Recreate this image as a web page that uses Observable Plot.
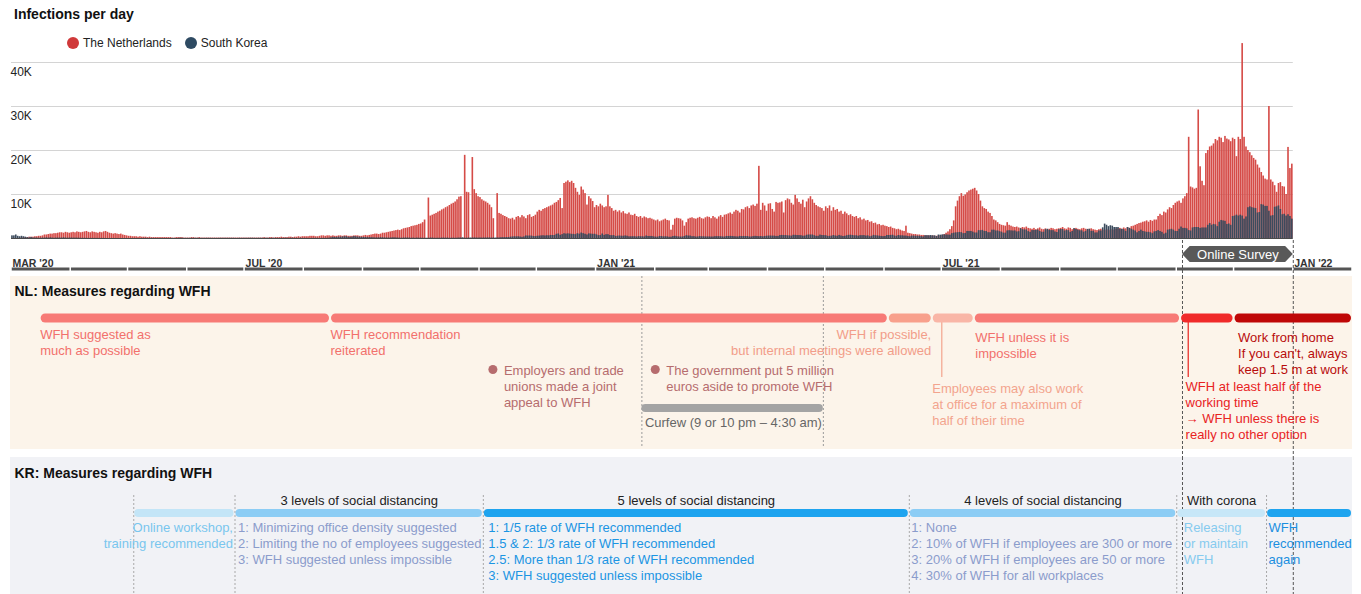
<!DOCTYPE html>
<html><head><meta charset="utf-8">
<script src="https://cdn.jsdelivr.net/npm/d3@7"></script>
<script src="https://cdn.jsdelivr.net/npm/@observablehq/plot@0.6"></script>
<style>
body{margin:0;background:#fff;font-family:Helvetica, Arial, "Liberation Sans", sans-serif;}
#root{position:relative;width:1361px;height:594px;overflow:hidden;background:#fff;}
.abs{position:absolute;left:0;width:1361px;}
#title{position:absolute;left:14px;top:6px;font-weight:bold;font-size:14px;color:#111;}
#legend{position:absolute;left:67px;top:36px;font-size:12px;color:#222;display:flex;align-items:center;}
.sw{display:inline-block;width:12px;height:12px;border-radius:50%;margin-right:4px;}
</style></head>
<body><div id="root">
<div id="chart" class="abs" style="top:40px"></div>
<div id="axis" class="abs" style="top:240px"></div>
<div id="nl" class="abs" style="top:276px"></div>
<div id="kr" class="abs" style="top:457px"></div>
<div id="title">Infections per day</div>
<div id="legend"><span class="sw" style="background:#d0393a"></span>The Netherlands<span class="sw" style="background:#2e4a62;margin-left:13px"></span>South Korea</div>
</div>
<script>
// ---------- DATA: daily new infections, in hundreds ----------
const NL_2020_03 = [0,0,0,0,1,1,2,2,2,3,3,3,4,4,5,5,6,8,8,9,10,10,11,11,12,13,13,12,14,13,12];
const NL_2020_04 = [13,14,13,15,14,13,14,15,16,14,13,15,14,13,12,14,13,15,16,14,12,11,10,11,10,9,10,8,7,6];
const NL_2020_05 = [5,5,4,4,4,3,4,3,3,3,2,3,2,2,2,2,2,2,2,2,2,2,2,1,1,2,2,2,2,1,1];
const NL_2020_06 = [1,1,2,2,1,1,2,1,1,1,1,1,1,1,1,1,1,1,1,1,1,1,1,1,1,1,1,1,1,1];
const NL_2020_07 = [1,1,1,1,1,1,1,1,1,1,2,1,1,2,2,1,2,2,2,3,2,2,2,3,3,2,3,3,4,3,4];
const NL_2020_08 = [4,4,4,5,5,5,4,4,5,6,6,5,6,6,5,6,5,5,6,6,5,6,6,5,5,5,6,6,6,5,5];
const NL_2020_09 = [6,7,6,7,8,9,10,10,9,10,12,12,13,14,15,16,17,18,19,18,20,22,23,24,25,27,28,29,30,32];
const NL_2020_10 = [33,36,42,0,92,51,53,55,57,60,62,65,67,70,72,75,78,80,83,88,94,95,0,189,105,104,0,184,111,102,95];
const NL_2020_11 = [93,88,85,83,80,76,70,45,0,102,57,55,52,50,48,45,44,46,42,48,50,47,52,49,45,52,54,48,50,53];
const NL_2020_12 = [60,64,62,66,68,70,72,74,76,80,82,86,91,68,125,128,131,127,130,125,114,105,98,117,110,102,76,95,90,84,70];
const NL_2021_01 = [75,72,78,74,70,72,98,72,68,62,64,60,63,58,61,56,55,58,53,52,55,50,48,50,46,49,47,45,46,44,42];
const NL_2021_02 = [40,42,38,40,42,44,41,40,19,30,44,46,45,44,40,28,36,44,46,47,45,44,46,48,45,44,47,49];
const NL_2021_03 = [48,45,50,47,44,49,52,48,53,54,56,58,55,60,64,62,58,66,65,70,72,68,74,76,73,78,164,64,80,74,62];
const NL_2021_04 = [78,79,66,60,82,80,81,83,58,86,90,88,80,76,98,90,82,78,87,70,83,90,95,88,80,75,72,70,68,62];
const NL_2021_05 = [72,68,74,62,70,64,66,60,62,55,60,56,52,54,50,48,50,45,47,42,44,40,41,37,38,34,35,31,32,29,30];
const NL_2021_06 = [28,27,25,26,23,22,20,21,19,17,16,28,12,11,10,9,9,8,8,7,7,6,6,6,5,6,5,5,6,6];
const NL_2021_07 = [7,9,12,15,20,27,40,72,85,95,102,96,99,104,108,110,112,114,108,100,85,72,68,66,60,57,50,42,40,36,32];
const NL_2021_08 = [30,29,28,36,30,28,26,25,26,24,23,25,24,26,23,22,21,23,20,22,24,21,20,22,19,21,23,22,20,21,22];
const NL_2021_09 = [23,25,22,21,24,23,20,22,23,21,20,22,23,21,19,21,22,20,19,18,20,21,19,18,20,19,18,20,19,21];
const NL_2021_10 = [22,23,21,24,22,25,23,27,28,30,32,34,35,37,38,40,37,41,39,42,42,50,55,52,60,58,65,70,68,75,80];
const NL_2021_11 = [83,85,80,90,95,102,230,117,115,112,114,292,163,130,120,193,200,208,210,215,225,222,230,228,218,232,226,224,220,228];
const NL_2021_12 = [225,186,230,225,443,230,208,200,195,188,182,178,167,160,150,142,135,133,300,133,128,120,105,125,127,118,117,100,207,159,169];

const KR_2020_03 = [6,6,8,5,4,5,4,3,2,1.5,2.4,1.1,1.1,1,0.8,0.7,0.9,0.9,1.5,0.9,1.5,1,0.6,1,1,1,0.9,1.5,1,0.8,1];
const KR_2020_04 = [1,0.9,0.9,0.9,0.8,0.5,0.5,0.5,0.4,0.3,0.3,0.3,0.3,0.3,0.3,0.2,0.2,0.2,0.1,0.1,0.1,0.1,0.1,0.1,0.1,0.1,0.1,0.1,0.1,0.1];
const KR_2020_05 = [0.1,0.1,0.1,0.1,0.1,0.1,0.1,0.2,0.3,0.4,0.3,0.3,0.3,0.3,0.2,0.2,0.2,0.2,0.2,0.2,0.2,0.2,0.2,0.2,0.2,0.2,0.4,0.8,0.6,0.4,0.3];
const KR_2020_06 = [0.4,0.4,0.5,0.4,0.5,0.5,0.5,0.4,0.4,0.4,0.5,0.5,0.4,0.3,0.4,0.3,0.4,0.5,0.5,0.5,0.5,0.5,0.5,0.5,0.5,0.3,0.3,0.6,0.4,0.5];
const KR_2020_07 = [0.5,0.5,0.6,0.6,0.6,0.5,0.4,0.6,0.5,0.5,0.4,0.6,0.6,0.4,0.4,0.6,0.4,0.4,0.3,0.3,0.4,0.6,0.6,0.4,0.6,0.6,0.3,0.3,0.4,0.5,0.3];
const KR_2020_08 = [0.3,0.3,0.3,0.2,0.3,0.4,0.4,0.4,0.3,0.3,0.5,0.5,0.6,1,1.7,2.8,2.2,2.5,3,3,3.3,3.9,4,2.7,2.7,3.2,4.4,3.7,3.2,3,2.5];
const KR_2020_09 = [2.4,2.3,2,2,1.9,1.7,1.4,1.4,1.5,1.8,1.6,1.3,1.2,1.1,1.1,1.5,1.6,1.3,1.1,0.8,0.7,1.1,1.2,1.2,1.1,0.6,1,0.5,1.1,0.8];
const KR_2020_10 = [0.8,0.6,0.7,0.6,0.7,1,1,0.6,0.5,0.7,0.6,1,1,0.8,1.1,0.5,0.7,0.8,0.6,0.9,1.2,1.2,1.6,0.8,0.7,1.2,1.1,1.2,1.3,1.1,1];
const KR_2020_11 = [1.2,1,1.2,1.2,1.4,1.4,0.9,1.4,1,1.4,1.4,1.9,2,2,2.2,2.3,3.1,3.4,3.9,3.6,3.9,3.3,2.7,3.5,5.8,5.5,5.7,5.4,4.5,4.3];
const KR_2020_12 = [5.1,5.4,6,6.3,5.8,6.3,6.1,6.9,6.8,6.9,9.5,10.3,7.2,8.8,10.8,10.1,10.6,10.1,9.5,9.3,8.7,10.9,9.8,12.4,11,9.7,8.1,10.5,10,9.5,9.6];
const KR_2021_01 = [8.2,6.5,6.6,10.2,7.2,8.7,8.7,6.7,6.4,6.6,4.5,5.3,5.6,5.2,5.1,5.8,5.2,3.9,4,4,4,3.4,4.3,4,3.9,3.5,5.6,4.6,4.7,4.6,3.6];
const KR_2021_02 = [3.1,3.2,4.6,4.5,3.7,3.9,3.7,2.9,3,4.4,5,4,3.6,3.3,3.4,4.6,6.2,5.6,5.6,4.2,4.2,3.3,3.6,4.4,4,3.9,3.6,3.6];
const KR_2021_03 = [3.6,3.4,3.4,4.2,4.2,4.2,4,3.5,3.3,4.6,4.6,4.9,4.6,4.1,3.8,3.6,4.7,4.5,4.6,4.5,4.5,3.5,3.5,4.3,4.9,4.5,4.2,4.5,3.8,4.5,5.1];
const KR_2021_04 = [5.5,5.6,5.4,5.4,4.7,4.8,6.7,7,6.7,6.7,6.1,5.9,5.4,7.3,7.2,6.7,6.7,6.4,5.3,5.5,7.3,7.9,7.9,7.9,6.4,5,5.1,7.7,6.8,6.6];
const KR_2021_05 = [6.3,4.9,4.9,5.4,6.8,5.7,5.2,7,5.7,4.6,5.1,6.3,7.2,7.4,6.8,6.1,6.2,5.3,6.5,6.5,6.6,5.6,6,4.1,5.1,7.1,6.3,5.9,5.3,4.8,4.3];
const KR_2021_06 = [4.6,6.8,6.8,7,7.4,5.6,4.9,6.8,6.1,6.2,5.6,5.5,4.5,4,5.4,5.5,5.2,5.1,5,4.2,3.6,6.5,6.5,6.3,6.7,6.1,6.1,4.5,7.9,7.6];
const KR_2021_07 = [8.3,8.3,8.2,7.9,7.5,11.1,12.1,12.8,13.2,13.7,13.2,11,11.5,16,16,16,14.5,12.5,12.5,17.8,17.8,18.4,16.2,15.9,13.2,13.1,18.9,18.9,17.1,17.1,15.4];
const KR_2021_08 = [14.4,12.2,12.1,17.2,17.8,17.4,17,17.2,14.9,15.4,22.2,19.9,19.3,19.3,15.6,14,18,18.1,18.6,19.1,16,14.2,14.2,20,21,18.8,17.9,17.9,14.9,13.6,19.9];
const KR_2021_09 = [20.3,20.3,17,18,17.8,13.8,15.9,22.4,20.4,18.9,17.5,17.5,14.3,15.8,20.7,20.9,16.2,16.5,12.6,12.8,17.2,17.2,24.3,32.7,30.1,27,29,28,25,25];
const KR_2021_10 = [25,21,21,20,16,25,23,21,19,17,13,16,19,16,15,14,14,13,11,15,16,18,16,14,10,12,19,20,21,19,16];
const KR_2021_11 = [16,21,26,23,23,22,18,17,24,25,25,25,23,24,24,24,30,34,30,32,31,27,37,41,40,39,32,33,30,50];
const KR_2021_12 = [51,53,51,53,51,44,49,70,72,70,69,68,58,59,77,76,73,73,62,51,52,71,72,74,66,54,55,51,54,50,44];

const Y_TICKS = [10000, 20000, 30000, 40000];
const Y_TICK_LABELS = ["10K", "20K", "30K", "40K"];
const MONTH_LABEL_DATES = ["2020-03-01", "2020-07-01", "2021-01-01", "2021-07-01", "2022-01-01"];
const MONTH_LABELS = ["MAR '20", "JUL '20", "JAN '21", "JUL '21", "JAN '22"];
const SURVEY = ["2021-11-04", "2022-01-01"];
const SURVEY_LABEL = "Online Survey";

const nlPeriods = [
  {start: "2020-03-16", end: "2020-08-15", label: "WFH suggested as\nmuch as possible"},
  {start: "2020-08-15", end: "2021-06-03", label: "WFH recommendation\nreiterated"},
  {start: "2021-06-03", end: "2021-06-26", label: "WFH if possible,\nbut internal meetings were allowed"},
  {start: "2021-06-26", end: "2021-07-18", label: "Employees may also work\nat office for a maximum of\nhalf of their time"},
  {start: "2021-07-18", end: "2021-11-03", label: "WFH unless it is\nimpossible"},
  {start: "2021-11-03", end: "2021-12-01", label: "WFH at least half of the\nworking time\n\u2192 WFH unless there is\nreally no other option"},
  {start: "2021-12-01", end: "2022-02-01", label: "Work from home\nIf you can't, always\nkeep 1.5 m at work"}
];
const nlConnectors = ["2021-07-01", "2021-11-07"];
const nlEvents = [
  {date: "2020-11-08", label: "Employers and trade\nunions made a joint\nappeal to WFH"},
  {date: "2021-02-01", label: "The government put 5 million\neuros aside to promote WFH"}
];
const curfew = {start: "2021-01-25", end: "2021-04-30", label: "Curfew (9 or 10 pm \u2013 4:30 am)"};

const krPeriods = [
  {start: "2020-05-04", end: "2020-06-26", header: "", label: "Online workshop,\ntraining recommended"},
  {start: "2020-06-26", end: "2020-11-03", header: "3 levels of social distancing", label: "1: Minimizing office density suggested\n2: Limiting the no of employees suggested\n3: WFH suggested unless impossible"},
  {start: "2020-11-03", end: "2021-06-14", header: "5 levels of social distancing", label: "1: 1/5 rate of WFH recommended\n1.5 & 2: 1/3 rate of WFH recommended\n2.5: More than 1/3 rate of WFH recommended\n3: WFH suggested unless impossible"},
  {start: "2021-06-14", end: "2021-11-01", header: "4 levels of social distancing", label: "1: None\n2: 10% of WFH if employees are 300 or more\n3: 20% of WFH if employees are 50 or more\n4: 30% of WFH for all workplaces"},
  {start: "2021-11-01", end: "2021-12-18", header: "With corona", label: "Releasing\nor maintain\nWFH"},
  {start: "2021-12-18", end: "2022-02-01", header: "", label: "WFH\nrecommended\nagain"}
];

// ---------- STYLE / LAYOUT ----------
const FONT = "Helvetica, Arial, 'Liberation Sans', sans-serif";
const STYLE = {fontFamily: FONT, background: "transparent", overflow: "visible"};
const D = s => new Date(s + "T00:00:00Z");
const X0 = D("2020-03-01"), X1 = D("2022-02-01"), GRID_END = D("2022-01-01");
const X = {type: "utc", domain: [X0, X1], range: [11, 1352], axis: null};
const CAP = 7;      // offset from first-line centre to block top
const FS = 13;      // body text size
const LH = 16 / FS; // 16px line spacing

const NL_STYLE = [
  {bar: "#f77a76", text: "#f2706c", anchor: "start", dx: 0, y: 58},
  {bar: "#f77a76", text: "#f2706c", anchor: "start", dx: 0, y: 58},
  {bar: "#f8a08c", text: "#f29d89", anchor: "end", dx: -1, y: 58},
  {bar: "#f9b6a7", text: "#f3a48e", anchor: "start", dx: 0, y: 112},
  {bar: "#f77a76", text: "#f2706c", anchor: "start", dx: 1, y: 61},
  {bar: "#f02a2a", text: "#e8231f", anchor: "start", dx: 5, y: 110},
  {bar: "#bf0707", text: "#b80c0c", anchor: "start", dx: 4, y: 61}
];
const NL_CONNECTOR_COLORS = ["#f3a48e", "#e8231f"];
const KR_STYLE = [
  {bar: "#c3e5f7", text: "#79c6ee", anchor: "end", dx: -2},
  {bar: "#8ccdf5", text: "#8b9ccc", anchor: "start", dx: 3},
  {bar: "#1ea4ef", text: "#1b95e3", anchor: "start", dx: 5},
  {bar: "#8ccdf5", text: "#8b9ccc", anchor: "start", dx: 2},
  {bar: "#c7e7f8", text: "#86cbef", anchor: "start", dx: 7},
  {bar: "#1ea4ef", text: "#1b8fe0", anchor: "start", dx: 2}
];

function buildSeries(list) {
  const out = [];
  for (const [y, m, arr] of list) arr.forEach((v, i) => out.push({
    date: new Date(Date.UTC(y, m, i + 1)), next: new Date(Date.UTC(y, m, i + 2)), value: v * 100}));
  return out;
}
const nlData = buildSeries([[2020,2,NL_2020_03],[2020,3,NL_2020_04],[2020,4,NL_2020_05],[2020,5,NL_2020_06],[2020,6,NL_2020_07],[2020,7,NL_2020_08],[2020,8,NL_2020_09],[2020,9,NL_2020_10],[2020,10,NL_2020_11],[2020,11,NL_2020_12],[2021,0,NL_2021_01],[2021,1,NL_2021_02],[2021,2,NL_2021_03],[2021,3,NL_2021_04],[2021,4,NL_2021_05],[2021,5,NL_2021_06],[2021,6,NL_2021_07],[2021,7,NL_2021_08],[2021,8,NL_2021_09],[2021,9,NL_2021_10],[2021,10,NL_2021_11],[2021,11,NL_2021_12]]);
const krData = buildSeries([[2020,2,KR_2020_03],[2020,3,KR_2020_04],[2020,4,KR_2020_05],[2020,5,KR_2020_06],[2020,6,KR_2020_07],[2020,7,KR_2020_08],[2020,8,KR_2020_09],[2020,9,KR_2020_10],[2020,10,KR_2020_11],[2020,11,KR_2020_12],[2021,0,KR_2021_01],[2021,1,KR_2021_02],[2021,2,KR_2021_03],[2021,3,KR_2021_04],[2021,4,KR_2021_05],[2021,5,KR_2021_06],[2021,6,KR_2021_07],[2021,7,KR_2021_08],[2021,8,KR_2021_09],[2021,9,KR_2021_10],[2021,10,KR_2021_11],[2021,11,KR_2021_12]]);

const c = v => () => v;

// ---------- CHART ----------
document.getElementById("chart").append(Plot.plot({
  width: 1361, height: 200, margin: 0, style: STYLE,
  x: X, y: {domain: [0, 40000], range: [198, 22], axis: null},
  marks: [
    Plot.ruleY(Y_TICKS, {y: d => d, x1: c(X0), x2: c(GRID_END), stroke: "#d4d4d4", strokeWidth: 1.2}),
    Plot.text(Y_TICKS, {x: c(X0), y: d => d, text: (d, i) => Y_TICK_LABELS[i], textAnchor: "start", dy: 10, dx: -1, fontSize: 12, fill: "#222"}),
    Plot.rectY(nlData, {x1: "date", x2: "next", y: "value", fill: "#d54b47", insetLeft: 0.15, insetRight: 0.15}),
    Plot.rectY(krData, {x1: "date", x2: "next", y: "value", fill: "#3c4b5d", insetLeft: 0.15, insetRight: 0.15}),
    Plot.ruleY([0], {x1: c(X0), x2: c(GRID_END), stroke: "#4a4a4a", strokeWidth: 1})
  ]
}));

// ---------- AXIS STRIP ----------
const S0 = D(SURVEY[0]), S1 = D(SURVEY[1]);
const surveyShape = [
  {x: S0, y1: 14, y2: 14},
  {x: d3.utcDay.offset(S0, 4), y1: 6, y2: 22},
  {x: d3.utcDay.offset(S1, -4), y1: 6, y2: 22},
  {x: S1, y1: 14, y2: 14}
];
const months = d3.utcMonths(X0, X1);
document.getElementById("axis").append(Plot.plot({
  width: 1361, height: 36, margin: 0, style: STYLE,
  x: X, y: {domain: [0, 36], range: [0, 36], axis: null},
  marks: [
    Plot.ruleX(SURVEY, {x: d => D(d), y1: c(0), y2: c(36), stroke: "#555", strokeDasharray: "3,2"}),
    Plot.areaY(surveyShape, {x: "x", y1: "y1", y2: "y2", fill: "#595959"}),
    Plot.text([SURVEY_LABEL], {x: c(new Date((+S0 + +S1) / 2)), y: c(14), text: d => d, fill: "#fff", fontSize: 13}),
    Plot.rect(months, {x1: d => d, x2: d => d3.utcMonth.offset(d, 1), y1: c(27.5), y2: c(30.5), fill: "#555", insetLeft: 0.75, insetRight: 0.75}),
    Plot.text(MONTH_LABEL_DATES, {x: d => D(d), y: c(23), text: (d, i) => MONTH_LABELS[i], textAnchor: "start", dx: 1, fontSize: 10.5, fontWeight: "bold", fill: "#333"})
  ]
}));

// ---------- NL PANEL ----------
const NLH = 181;
const nlMarks = [
  Plot.rect([0], {x1: c(X0), x2: c(X1), y1: c(0), y2: c(173), fill: "#fcf4ea", insetLeft: -1}),
  Plot.ruleX([curfew.start, curfew.end], {x: d => D(d), y1: c(0), y2: c(171), stroke: "#9a9a9a", strokeDasharray: "2,2"}),
  Plot.ruleX(SURVEY, {x: d => D(d), y1: c(0), y2: c(NLH), stroke: "#555", strokeDasharray: "3,2"}),
  Plot.text(["NL: Measures regarding WFH"], {x: c(X0), y: c(15), text: d => d, textAnchor: "start", dx: 3, fontSize: 14, fontWeight: "bold", fill: "#111"}),
  Plot.rect([curfew], {x1: d => D(d.start), x2: d => D(d.end), y1: c(128), y2: c(136), rx: 4, fill: "#a4a4a4"}),
  Plot.text([curfew], {x: d => D(d.start), y: c(146), text: "label", textAnchor: "start", dx: 3, fontSize: FS, fill: "#666"}),
  Plot.dot(nlEvents, {x: d => D(d.date), y: c(93), r: 4.5, fill: "#b66c6e", stroke: "none"}),
  Plot.text(nlEvents, {x: d => D(d.date), y: c(94 - CAP), text: "label", lineAnchor: "top", lineHeight: LH, textAnchor: "start", dx: 11, fontSize: FS, fill: "#b66c6e"}),
  ...nlConnectors.map((d, i) => Plot.ruleX([d], {x: v => D(v), y1: c(46), y2: c(101), stroke: NL_CONNECTOR_COLORS[i], strokeWidth: 1.2}))
];
nlPeriods.forEach((p, i) => {
  const s = NL_STYLE[i];
  nlMarks.push(Plot.rect([p], {x1: d => D(d.start), x2: d => D(d.end), y1: c(37.5), y2: c(46.5), rx: 4.5, insetLeft: 1, insetRight: 1, fill: s.bar}));
  nlMarks.push(Plot.text([p], {x: d => D(s.anchor === "end" ? d.end : d.start), y: c(s.y - CAP), text: "label", lineAnchor: "top", lineHeight: LH, textAnchor: s.anchor, dx: s.dx, fontSize: FS, fill: s.text}));
});
document.getElementById("nl").append(Plot.plot({
  width: 1361, height: NLH, margin: 0, style: STYLE,
  x: X, y: {domain: [0, NLH], range: [0, NLH], axis: null},
  marks: nlMarks
}));

// ---------- KR PANEL ----------
const KRH = 137;
const krMarks = [
  Plot.rect([0], {x1: c(X0), x2: c(X1), y1: c(0), y2: c(KRH), fill: "#f1f2f6", insetLeft: -1}),
  Plot.ruleX(krPeriods, {x: d => D(d.start), y1: c(38), y2: c(KRH), stroke: "#a8a8a8", strokeDasharray: "2,2"}),
  Plot.ruleX(SURVEY, {x: d => D(d), y1: c(0), y2: c(KRH), stroke: "#555", strokeDasharray: "3,2"}),
  Plot.text(["KR: Measures regarding WFH"], {x: c(X0), y: c(16), text: d => d, textAnchor: "start", dx: 3, fontSize: 14, fontWeight: "bold", fill: "#111"}),
  Plot.text(krPeriods.filter(d => d.header), {x: d => new Date((+D(d.start) + +D(d.end)) / 2), y: c(43), text: "header", fontSize: 13, fill: "#222"})
];
krPeriods.forEach((p, i) => {
  const s = KR_STYLE[i];
  krMarks.push(Plot.rect([p], {x1: d => D(d.start), x2: d => D(d.end), y1: c(52), y2: c(60), rx: 4, insetLeft: 1, insetRight: 1, fill: s.bar}));
  krMarks.push(Plot.text([p], {x: d => D(s.anchor === "end" ? d.end : d.start), y: c(69 - CAP + 1), text: "label", lineAnchor: "top", lineHeight: LH, textAnchor: s.anchor, dx: s.dx, fontSize: FS, fill: s.text}));
});
document.getElementById("kr").append(Plot.plot({
  width: 1361, height: KRH, margin: 0, style: STYLE,
  x: X, y: {domain: [0, KRH], range: [0, KRH], axis: null},
  marks: krMarks
}));
</script>
</body></html>
